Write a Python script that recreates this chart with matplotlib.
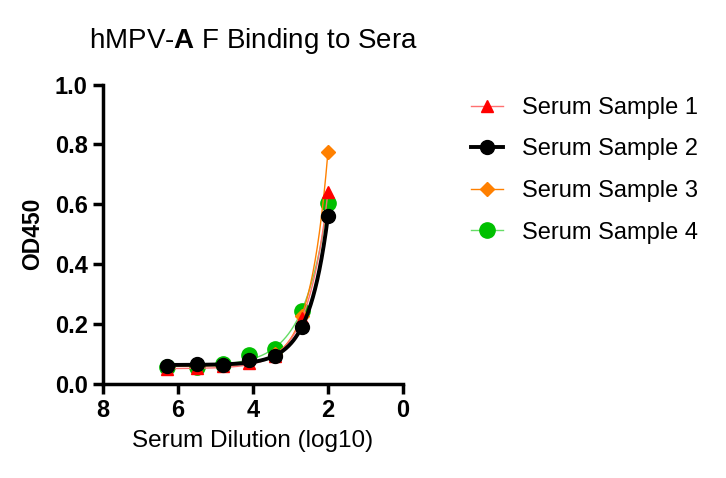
import numpy as np
import matplotlib
matplotlib.use("Agg")
import matplotlib.pyplot as plt

plt.rcParams['font.family'] = ['Liberation Sans', 'DejaVu Sans']
plt.rcParams['mathtext.fontset'] = 'custom'
plt.rcParams['mathtext.rm'] = 'Liberation Sans'
plt.rcParams['mathtext.bf'] = 'Liberation Sans:bold'

# datos
dilucion = [6.3, 5.5, 4.8, 4.1, 3.4, 2.7, 2.0]
muestra_1 = [0.048, 0.052, 0.058, 0.068, 0.092, 0.220, 0.640]
muestra_2 = [0.058, 0.066, 0.063, 0.078, 0.094, 0.189, 0.561]
muestra_3 = [0.055, 0.058, 0.062, 0.075, 0.100, 0.227, 0.775]
muestra_4 = [0.055, 0.057, 0.065, 0.097, 0.117, 0.244, 0.606]
nombres = ["Serum Sample 1", "Serum Sample 2", "Serum Sample 3", "Serum Sample 4"]


# ajuste y = c + a*exp(-k*(x-2)) buscando k en una grilla
def ajustar(x, y):
    x = np.asarray(x)
    y = np.asarray(y)
    mejor = None
    for k in np.linspace(0.3, 6, 600):
        e = np.exp(-k * (x - 2))
        A = np.column_stack([np.ones_like(e), e])
        coef, res, _, _ = np.linalg.lstsq(A, y, rcond=None)
        sse = np.sum((A @ coef - y) ** 2)
        if mejor is None or sse < mejor[0]:
            mejor = (sse, k, coef)
    _, k, (c, a) = mejor
    xs = np.linspace(x.min(), x.max(), 300)
    return xs, c + a * np.exp(-k * (xs - 2))


fig = plt.figure(figsize=(7.26, 4.78), dpi=100)
ax = fig.add_axes([0.142, 0.197, 0.413, 0.626])

estilos = [
    # (datos, color linea, color marcador, marcador, tam, ancho, orden)
    (muestra_4, "#66dd66", "#00c000", "o", 11, 1.0, 2),
    (muestra_3, "#ff8000", "#ff8000", "D", 7, 1.0, 3),
    (muestra_1, "#ff7070", "#ff0000", "^", 9, 1.0, 4),
    (muestra_2, "black", "black", "o", 10, 2.8, 5),
]
etiquetas = [nombres[3], nombres[2], nombres[0], nombres[1]]

handles = {}
for (datos, cl, cm, mk, ms, lw, z), nom in zip(estilos, etiquetas):
    xs, ys = ajustar(dilucion, datos)
    ax.plot(xs, ys, color=cl, lw=lw, zorder=z)
    ax.plot(dilucion, datos, ls="none", marker=mk, ms=ms, color=cm,
            markeredgecolor=cm, zorder=z + 0.5)
    h, = ax.plot([], [], color=cl, lw=lw, marker=mk, ms=ms,
                 markerfacecolor=cm, markeredgecolor=cm)
    handles[nom] = h

ax.set_xlim(8, 0)
ax.set_ylim(0, 1.0)
ax.set_xticks([8, 6, 4, 2, 0])
ax.set_yticks([0, 0.2, 0.4, 0.6, 0.8, 1.0])
ax.set_yticklabels(["0.0", "0.2", "0.4", "0.6", "0.8", "1.0"])
for s in ["top", "right"]:
    ax.spines[s].set_visible(False)
for s in ["left", "bottom"]:
    ax.spines[s].set_linewidth(2.5)
ax.tick_params(width=2.5, length=7, labelsize=17, pad=4)
for t in ax.get_xticklabels() + ax.get_yticklabels():
    t.set_fontweight("bold")

ax.set_xlabel("Serum Dilution (log10)", fontsize=17.5, labelpad=6)
ax.set_ylabel("OD450", fontsize=16.5, fontweight="bold", labelpad=8)
ax.set_title(r"hMPV-$\mathbf{A}$ F Binding to Sera", fontsize=20, pad=26)

fig.legend([handles[n] for n in nombres], nombres, loc="upper left",
           bbox_to_anchor=(0.62, 0.842), frameon=False, fontsize=17,
           handlelength=1.35, labelspacing=0.83, handletextpad=0.8)

fig.savefig("out.png", dpi=100)
